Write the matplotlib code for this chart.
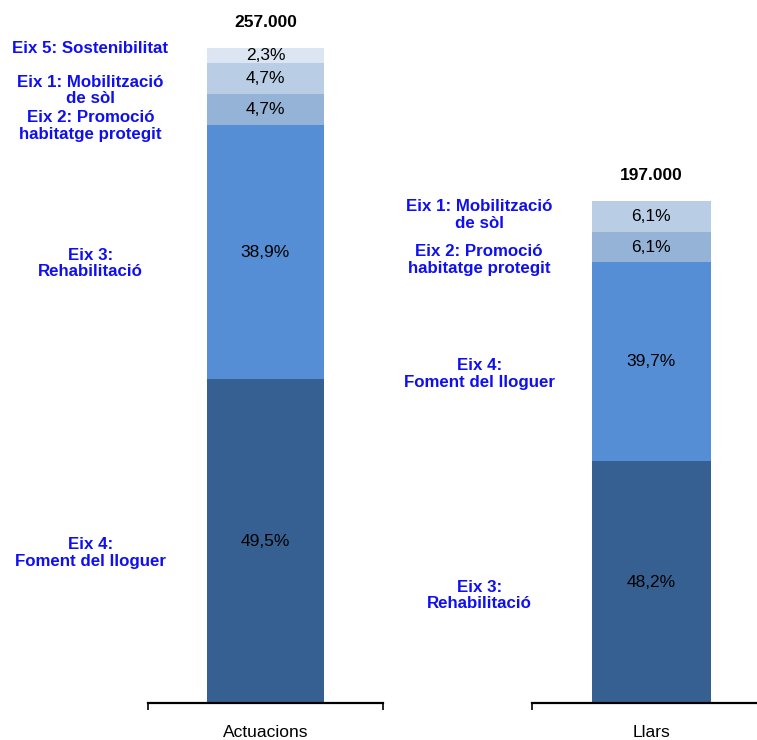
import matplotlib.pyplot as plt
import numpy as np

plt.rcParams['font.family'] = ['Liberation Sans', 'DejaVu Sans']

# data
categories = ['Actuacions', 'Llars']
totals = [257000, 197000]
total_labels = ['257.000', '197.000']

# percentages from bottom to top of each bar
act_pct = [49.5, 38.9, 4.7, 4.7, 2.3]
act_names = ['Eix 4:\nFoment del lloguer', 'Eix 3:\nRehabilitació',
             'Eix 2: Promoció\nhabitatge protegit', 'Eix 1: Mobilització\nde sòl',
             'Eix 5: Sostenibilitat']
llars_pct = [48.2, 39.7, 6.1, 6.1]
llars_names = ['Eix 3:\nRehabilitació', 'Eix 4:\nFoment del lloguer',
               'Eix 2: Promoció\nhabitatge protegit', 'Eix 1: Mobilització\nde sòl']

colors = ['#376092', '#558ED5', '#95B3D7', '#B9CDE5', '#DCE6F2']
label_blue = '#0F0FF0'

fig = plt.figure(figsize=(7.57, 7.40), dpi=100)

# each bar is its own small chart, like the original
ax_specs = [
    # left, width, label x (axes fraction), label y offsets (points)
    (0.1955, 0.3104, -0.245, [-8.6, -8, -12, -8.6, 5]),
    (0.7028, 0.3144, -0.222, [-9.4, -8.6, -9.4, 1]),
]
all_pct = [act_pct, llars_pct]
all_names = [act_names, llars_names]

for i, (left, width, lx, offs) in enumerate(ax_specs):
    ax = fig.add_axes([left, 0.05, width, 0.9284])
    pcts = all_pct[i]
    vals = np.array(pcts) / 100.0 * totals[i]
    bottom = 0
    for j, v in enumerate(vals):
        ax.bar(0, v, width=0.5, bottom=bottom, color=colors[j], linewidth=0)
        mid = bottom + v / 2
        ax.text(0, mid, f'{pcts[j]:.1f}%'.replace('.', ','), ha='center', va='center',
                fontsize=12.5, color='black')
        ax.annotate(all_names[i][j], xy=(lx, mid), xycoords=('axes fraction', 'data'),
                    xytext=(0, offs[j]), textcoords='offset points',
                    ha='center', va='center', fontsize=12.2, fontweight='bold',
                    color=label_blue, linespacing=1.12, annotation_clip=False)
        bottom += v
    ax.annotate(total_labels[i], xy=(0, totals[i]), xytext=(0, 19),
                textcoords='offset points', ha='center', va='center',
                fontsize=12.5, fontweight='bold')

    ax.set_xlim(-0.5, 0.5)
    ax.set_ylim(0, 270000)
    for s in ['top', 'right', 'left']:
        ax.spines[s].set_visible(False)
    ax.spines['bottom'].set_linewidth(1.6)
    ax.set_yticks([])
    ax.set_xticks([-0.5, 0.5], labels=['', ''])
    ax.tick_params(axis='x', which='major', direction='out', length=5, width=1.2)
    ax.set_xticks([0], labels=[categories[i]], minor=True)
    ax.tick_params(axis='x', which='minor', length=0, pad=16, labelsize=12.5)
    ax.patch.set_alpha(0)

plt.savefig('out.png', dpi=100)
